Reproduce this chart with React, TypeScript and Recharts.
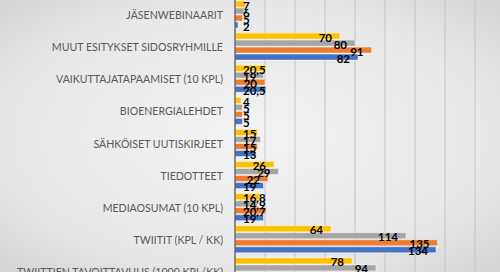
import React from 'react';
import { BarChart, Bar, XAxis, YAxis, CartesianGrid, LabelList } from 'recharts';

const categories = [
  'JÄSENWEBINAARIT',
  'MUUT ESITYKSET SIDOSRYHMILLE',
  'VAIKUTTAJATAPAAMISET (10 KPL)',
  'BIOENERGIALEHDET',
  'SÄHKÖISET UUTISKIRJEET',
  'TIEDOTTEET',
  'MEDIAOSUMAT (10 KPL)',
  'TWIITIT (KPL / KK)',
  'TWIITTIEN TAVOITTAVUUS (1000 KPL/KK)',
];

// sarjat ylhäältä alas: keltainen, harmaa, oranssi, sininen
const sarja1 = [7, 70, 20.5, 4, 15, 26, 16.8, 64, 78];
const sarja2 = [6, 80, 19, 5, 17, 29, 14.9, 114, 94];
const sarja3 = [5, 91, 20, 5, 15, 22, 20.7, 135, null];
const sarja4 = [2, 82, 20.5, 5, 13, 19, 19, 134, null];

const xTicks = [0, 20, 40, 60, 80, 100, 120, 140, 160, 180];

const chartData = categories.map((name, i) => ({
  name,
  s1: sarja1[i],
  s2: sarja2[i],
  s3: sarja3[i],
  s4: sarja4[i],
}));

const FONT = 'Lato, "DejaVu Sans", sans-serif';

// Excel-tyylinen "inside end" -arvo, joka ei mene akselin yli
const renderLabel = (props: any) => {
  const { x, y, width, height, value } = props;
  if (value === null || value === undefined) return null;
  const text = String(value).replace('.', ',');
  const end = x + width - 8;
  const w = text.length * 6.3;
  const minLeft = x + 8;
  const clamped = end - w < minLeft;
  return (
    <text
      x={clamped ? minLeft : end}
      y={y + height / 2 + 1}
      textAnchor={clamped ? 'start' : 'end'}
      dominantBaseline="central"
      fontFamily={FONT}
      fontWeight={700}
      fontSize={11.5}
      fill="#000000"
    >
      {text}
    </text>
  );
};

// yksirivinen luokkaotsikko
const CategoryTick = (props: any) => {
  const { x, y, payload } = props;
  return (
    <text
      x={x}
      y={y}
      textAnchor="end"
      dominantBaseline="central"
      fontFamily={FONT}
      fontSize={10.6}
      fill="#595959"
    >
      {payload.value}
    </text>
  );
};

const series = [
  { key: 's1', color: '#FFC000' },
  { key: 's2', color: '#A5A5A5' },
  { key: 's3', color: '#ED7D31' },
  { key: 's4', color: '#4472C4' },
];

const App: React.FC = () => {
  return (
    <div
      style={{
        position: 'absolute',
        left: 0,
        top: 0,
        width: 500,
        height: 272,
        overflow: 'hidden',
        background: 'radial-gradient(ellipse at center, #f3f3f3 0%, #e8e8e8 65%, #d4d4d4 100%)',
      }}
    >
      <div style={{ position: 'absolute', left: 0, top: -1 }}>
        <BarChart
          width={520}
          height={289}
          data={chartData}
          layout="vertical"
          margin={{ top: 0, right: 15, left: 0, bottom: 0 }}
          barCategoryGap={2}
          barGap={1}
        >
          <CartesianGrid horizontal={false} stroke="#c4c4c4" />
          <XAxis type="number" domain={[0, 180]} ticks={xTicks} hide />
          <YAxis
            type="category"
            dataKey="name"
            width={235}
            tickLine={false}
            tickSize={0}
            tickMargin={12}
            axisLine={{ stroke: '#3a3a3a' }}
            interval={0}
            tick={<CategoryTick />}
          />
          {series.map((s) => (
            <Bar
              key={s.key}
              dataKey={s.key}
              fill={s.color}
              stroke="#ffffff"
              strokeOpacity={0.45}
              strokeWidth={1}
              isAnimationActive={false}
            >
              <LabelList dataKey={s.key} content={renderLabel} />
            </Bar>
          ))}
        </BarChart>
      </div>
    </div>
  );
};

export default App;
